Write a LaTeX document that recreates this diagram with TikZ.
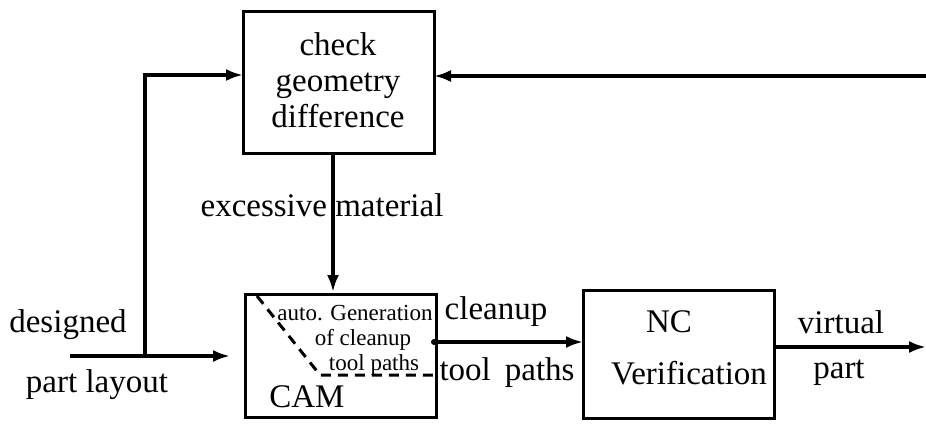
\documentclass[tikz,border=0pt]{standalone}
\usepackage{fontspec}
\setmainfont{Liberation Serif}
\usetikzlibrary{arrows.meta}
\begin{document}
\begin{tikzpicture}[x=1pt,y=-1pt,
  box/.style={draw,line width=3pt,inner sep=0pt},
  conn/.style={line width=3.2pt,-{Latex[length=17pt,width=12pt]}},
  big/.style={font=\fontsize{33}{37}\selectfont,inner sep=0pt},
  small/.style={font=\fontsize{23}{26}\selectfont,inner sep=0pt}]
\useasboundingbox (0,0) rectangle (926,423);
% boxes
\node[box,minimum width=191pt,minimum height=142pt] (chk) at (338.5,82) {};
\node[box,minimum width=191pt,minimum height=123pt] (cam) at (340.5,356) {};
\node[box,minimum width=191pt,minimum height=128pt] (nc) at (678.5,354) {};
% box texts
\node[big,align=center] (chkt) at (338,80) {check\\[-1pt]geometry\\[-1pt]difference};
\node[small] (t1) at (355,313) {auto. Generation};
\node[small] (t2) at (363,340) {of cleanup};
\node[small] (t3) at (374,365) {tool paths};
\node[big] (camt) at (307,397) {CAM};
\node[big] (nct) at (669,322) {NC};
\node[big] (vt) at (689,373) {Verification};
% labels
\node[big] (lex) at (322,205) {excessive material};
\node[big] (ldes) at (68,325) {designed};
\node[big] (lpl) at (97,385) {part layout};
\node[big] (lcl) at (496,312) {cleanup};
\node[big] (ltp) at (507,373) {tool\hspace{14pt}paths};
\node[big] (lvi) at (841,322) {virtual};
\node[big] (lpa) at (839,373) {part};
% coordinates
\coordinate (inS) at (70,356);
\coordinate (jn) at (145,356);
\coordinate (inE) at (230,356);
\coordinate (up) at (145,75);
\coordinate (chkL) at (243,75);
\coordinate (fbS) at (926,76);
\coordinate (chkR) at (434,76);
\coordinate (exS) at (333,153);
\coordinate (exE) at (333,292);
\coordinate (clS) at (434,342);
\coordinate (clE) at (583,342);
\coordinate (outS) at (776,347);
\coordinate (outE) at (926,347);
\coordinate (d1) at (257,296);
\coordinate (d2) at (320,375);
\coordinate (d3) at (436,375);
% connectors
\draw[conn] (inS) -- (inE);
\draw[conn] (jn) -- (up) -- (chkL);
\draw[conn] (fbS) -- (chkR);
\draw[conn] (exS) -- (exE);
\draw[conn] (clS) -- (clE);
\fill (clS) circle (3pt);
\draw[conn] (outS) -- (outE);
\draw[line width=3pt,dash pattern=on 10pt off 7pt] (d1) -- (d2) -- (d3);
\end{tikzpicture}
\end{document}
